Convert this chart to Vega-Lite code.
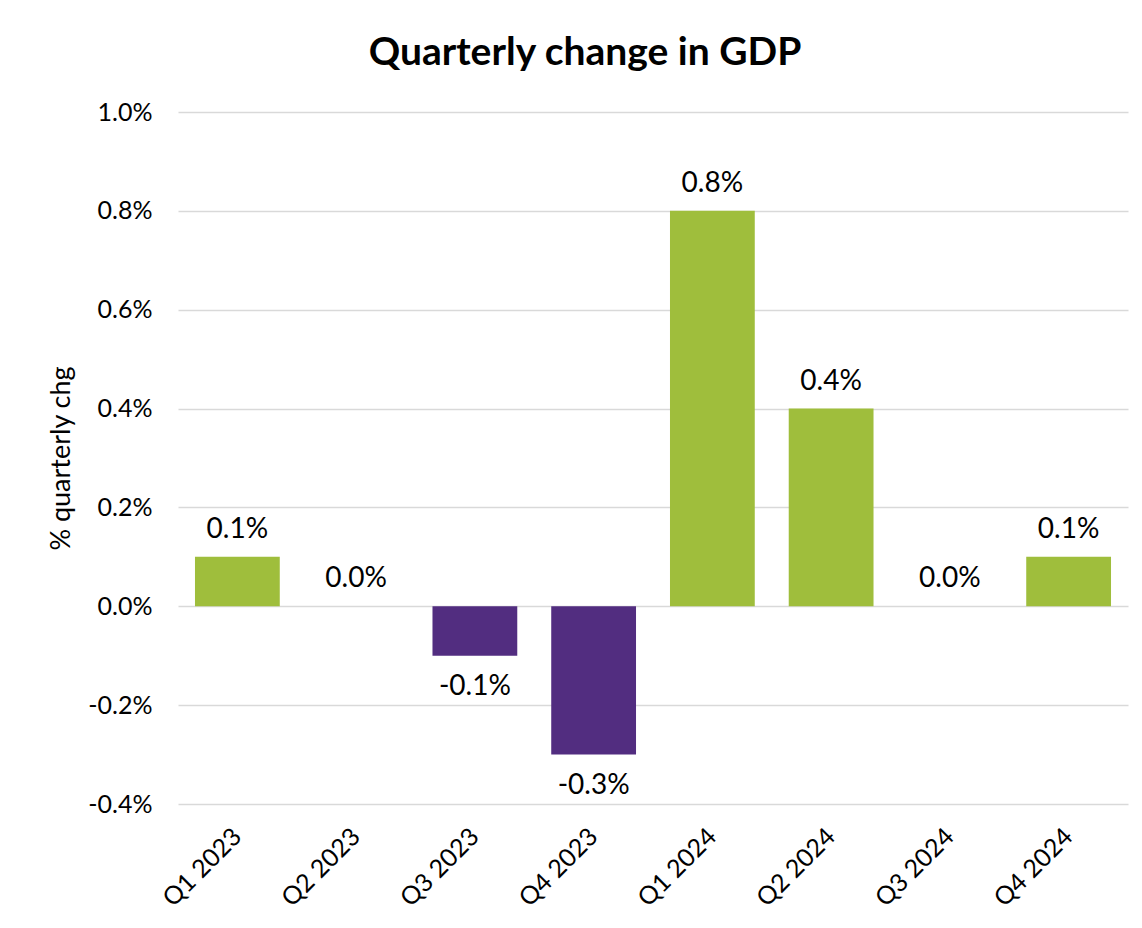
{
  "$schema": "https://vega.github.io/schema/vega-lite/v6.json",
  "width": 950,
  "height": 692,
  "autosize": "none",
  "padding": {"left": 178, "top": 112, "right": 14, "bottom": 124},
  "background": "white",
  "config": {
    "font": "Lato",
    "view": {"stroke": null},
    "axis": {"labelFont": "Lato", "titleFont": "Lato", "labelColor": "#000000", "titleColor": "#000000"}
  },
  "title": {
    "text": "Quarterly change in GDP",
    "fontSize": 39,
    "fontWeight": "bold",
    "font": "Lato",
    "color": "#000000",
    "anchor": "middle",
    "frame": "group",
    "dx": -68,
    "offset": 27
  },
  "data": {
    "values": [
      {"quarter": "Q1 2023", "value": 0.001, "label": "0.1%"},
      {"quarter": "Q2 2023", "value": 0.0, "label": "0.0%"},
      {"quarter": "Q3 2023", "value": -0.001, "label": "-0.1%"},
      {"quarter": "Q4 2023", "value": -0.003, "label": "-0.3%"},
      {"quarter": "Q1 2024", "value": 0.008, "label": "0.8%"},
      {"quarter": "Q2 2024", "value": 0.004, "label": "0.4%"},
      {"quarter": "Q3 2024", "value": 0.0, "label": "0.0%"},
      {"quarter": "Q4 2024", "value": 0.001, "label": "0.1%"}
    ]
  },
  "encoding": {
    "x": {
      "field": "quarter",
      "type": "nominal",
      "sort": null,
      "scale": {"paddingInner": 0.286, "paddingOuter": 0.143},
      "axis": {
        "title": null,
        "labelAngle": -45,
        "labelAlign": "right",
        "labelBaseline": "middle",
        "labelFontSize": 25,
        "labelPadding": 28,
        "ticks": false,
        "domain": false,
        "grid": false
      }
    },
    "y": {
      "field": "value",
      "type": "quantitative",
      "scale": {"domain": [-0.004, 0.01], "nice": false, "zero": false},
      "axis": {
        "title": "% quarterly chg",
        "titleFontSize": 27,
        "titleFontWeight": "normal",
        "titlePadding": 12,
        "values": [-0.004, -0.002, 0, 0.002, 0.004, 0.006, 0.008, 0.01],
        "format": ".1%",
        "labelExpr": "replace(datum.label, '\u2212', '-')",
        "labelFontSize": 25,
        "labelPadding": 26,
        "ticks": false,
        "domain": false,
        "grid": true,
        "gridColor": "#d9d9d9",
        "gridWidth": 1.5
      }
    }
  },
  "layer": [
    {
      "mark": {"type": "bar"},
      "encoding": {
        "y2": {"datum": 0},
        "color": {
          "condition": {"test": "datum.value < 0", "value": "#522D80"},
          "value": "#9FBE3C"
        }
      }
    },
    {
      "transform": [{"filter": "datum.value >= 0"}],
      "mark": {"type": "text", "fontSize": 28, "baseline": "alphabetic", "dy": -19, "color": "#000000"},
      "encoding": {"text": {"field": "label"}}
    },
    {
      "transform": [{"filter": "datum.value < 0"}],
      "mark": {"type": "text", "fontSize": 28, "baseline": "top", "dy": 17, "color": "#000000"},
      "encoding": {"text": {"field": "label"}}
    }
  ]
}
